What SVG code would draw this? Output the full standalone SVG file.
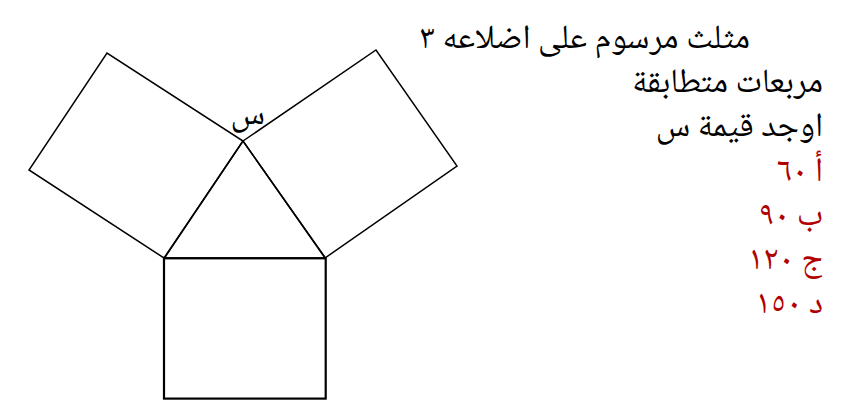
<svg xmlns="http://www.w3.org/2000/svg" width="864" height="415" viewBox="0 0 864 415">
<style>
.sh{fill:none;stroke:#000;stroke-width:1.5;stroke-linejoin:miter}
.t{font-family:"Noto Naskh Arabic","Noto Sans Arabic","DejaVu Sans",sans-serif;font-size:34px;fill:#000;text-anchor:start;direction:rtl}
.r{fill:#b00000}
</style>
<rect width="864" height="415" fill="#fff"/>
<g id="square-left"><polygon class="sh" points="164,258 243,141 107,53 29,170"/></g>
<g id="square-right"><polygon class="sh" points="243,141 376,50 457,166 325,258"/></g>
<g id="triangle"><polygon class="sh" points="243,141 164.5,258 325.5,258"/></g>
<g id="square-bottom"><rect class="sh" x="164" y="258.3" width="161.7" height="140.3" style="stroke-width:2.2"/></g>
<g id="label-x"><text class="t" x="265" y="124">س</text></g>
<g id="question">
<text class="t" x="750" y="48">مثلث مرسوم على اضلاعه ٣</text>
<text class="t" x="823" y="92">مربعات متطابقة</text>
<text class="t" x="823" y="136">اوجد قيمة س</text>
</g>
<g id="options">
<text class="t r" x="823" y="181">أ ٦٠</text>
<text class="t r" x="823" y="225">ب ٩٠</text>
<text class="t r" x="823" y="269">ج ١٢٠</text>
<text class="t r" x="823" y="313">د ١٥٠</text>
</g>
</svg>
